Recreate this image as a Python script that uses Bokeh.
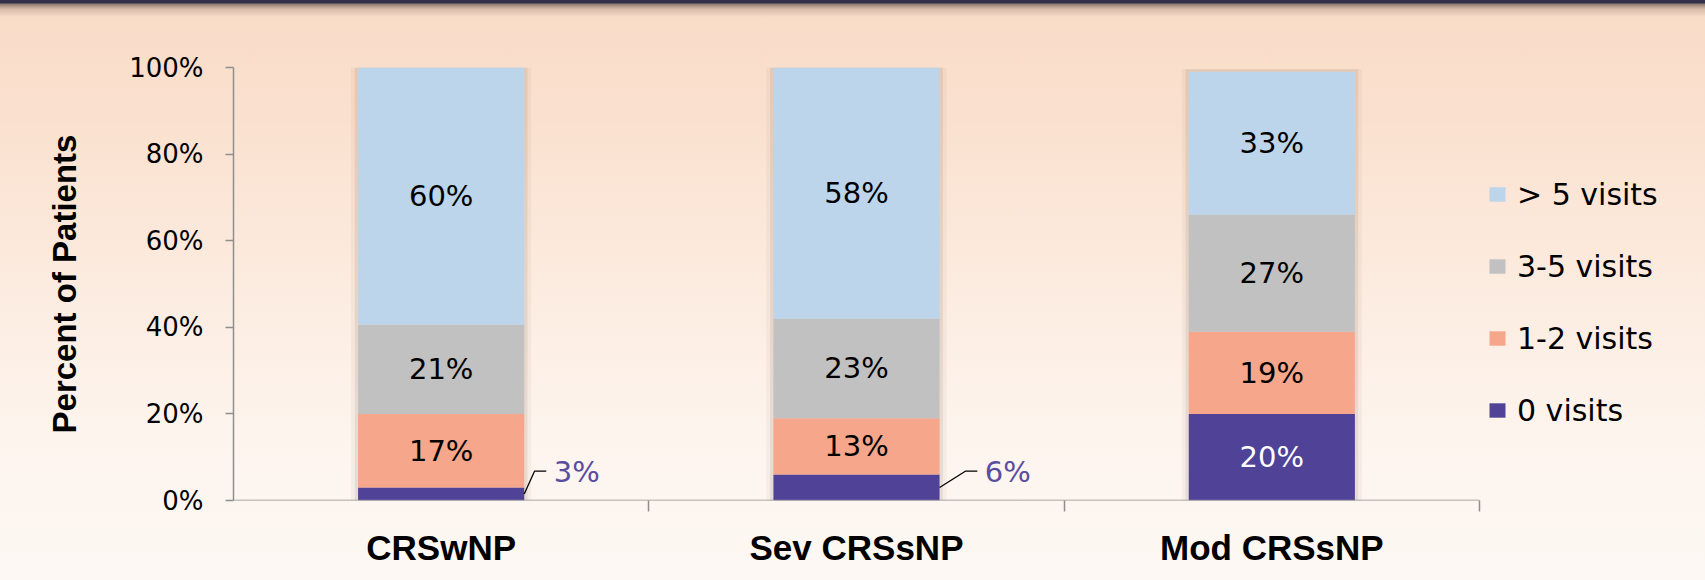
from bokeh.plotting import figure
from bokeh.models import ColumnDataSource, FixedTicker, Legend, LegendItem, Range1d
from bokeh.core.properties import value
from bokeh.embed import file_html
from bokeh.resources import INLINE
import numpy as np

# ---------------- data ----------------
categories = ["CRSwNP", "Sev CRSsNP", "Mod CRSsNP"]
series = ["0 visits", "1-2 visits", "3-5 visits", "> 5 visits"]
visits_0 = [3.0, 6.0, 20.0]
visits_1_2 = [17.0, 13.0, 19.0]
visits_3_5 = [20.6, 23.0, 27.0]
visits_gt5 = [59.4, 58.0, 33.0]
labels_0 = ["3%", "6%", "20%"]
labels_1_2 = ["17%", "13%", "19%"]
labels_3_5 = ["21%", "23%", "27%"]
labels_gt5 = ["60%", "58%", "33%"]
y_ticks = [0, 20, 40, 60, 80, 100]
y_tick_labels = ["0%", "20%", "40%", "60%", "80%", "100%"]

# ---------------- styles ----------------
colors = ["#4f4297", "#f6a68a", "#c1c1c1", "#bcd5ea"]
label_colors = ["#ffffff", "#000000", "#000000", "#000000"]
callout_color = "#5a4da0"
axis_color = "#8e8e8e"
FONT = "DejaVu Sans"
BOLD_FONT = "Liberation Sans"
BAR_W = 0.4

values = [visits_0, visits_1_2, visits_3_5, visits_gt5]
labels = [labels_0, labels_1_2, labels_3_5, labels_gt5]
n = len(categories)
xs = [i + 0.5 for i in range(n)]

W, H = 1705, 580
LEFT, AXIS_END = 233, 1479          # pixel extent of the category axis
cat_px = (AXIS_END - LEFT) / n
x_end = n + (W - AXIS_END) / cat_px  # frame continues to the right edge for the legend

p = figure(width=W, height=H, output_backend="svg", toolbar_location=None,
           x_range=Range1d(0, x_end), y_range=Range1d(0, 100),
           min_border_left=LEFT, min_border_right=0, min_border_top=67,
           min_border_bottom=80)
p.background_fill_alpha = 0
p.border_fill_alpha = 0
p.outline_line_color = None
p.xgrid.visible = False
p.ygrid.visible = False
p.styles = {"background": "linear-gradient(to bottom, #33314a 0px, #33314a 3px, #8f7b70 4px, "
                          "#d8bca9 9px, #f9dcc8 17px, #fae1cf 120px, #fcebdf 280px, "
                          "#fdf4ed 430px, #fdf8f4 100%)"}

# bar shadows
totals = np.sum(np.array(values), axis=0)
shadow = ColumnDataSource(dict(x=xs, top=totals + 0.6))
p.vbar(x="x", top="top", bottom=0, width=BAR_W + 0.034, source=shadow,
       fill_color="#6b4a3a", fill_alpha=0.05, line_color=None)
p.vbar(x="x", top="top", bottom=0, width=BAR_W + 0.016, source=shadow,
       fill_color="#6b4a3a", fill_alpha=0.10, line_color=None)

data = dict(x=xs)
for s, v in zip(series, values):
    data[s] = v
src = ColumnDataSource(data)
rends = p.vbar_stack(series, x="x", width=BAR_W, color=colors, source=src,
                     line_color=None)

# labels
cum = np.cumsum(np.array(values), axis=0)
in_x, in_y, in_t, in_c = [], [], [], []
co_x, co_y, co_t, lxs, lys = [], [], [], [], []
callout_elbow = [0.025, 0.063]
k = 0
for si in range(len(series)):
    for ci in range(n):
        v = values[si][ci]
        top = cum[si][ci]
        mid = top - v / 2
        if v >= 8:
            in_x.append(xs[ci]); in_y.append(mid); in_t.append(labels[si][ci])
            in_c.append(label_colors[si])
        else:
            right = xs[ci] + BAR_W / 2
            ly = top + 6.8 - v
            ex = right + callout_elbow[k]
            lxs.append([right, ex, ex + 0.028]); lys.append([mid, ly, ly])
            co_x.append(ex + 0.046); co_y.append(ly - 0.3); co_t.append(labels[si][ci])
            k += 1

p.text(x=in_x, y=in_y, text=in_t, text_color=in_c, text_align="center",
       text_baseline="middle", text_font=value(FONT), text_font_size="29px")
p.multi_line(xs=lxs, ys=lys, line_color="#000000", line_width=1.3)
p.text(x=co_x, y=co_y, text=co_t, text_color=callout_color, text_align="left",
       text_baseline="middle", text_font=value(FONT), text_font_size="29px")

# x axis line only across the categories
p.segment(x0=[0], y0=[0], x1=[n], y1=[0], line_color=axis_color, line_width=1.5)

# axes
xa = p.xaxis[0]
xa.ticker = FixedTicker(ticks=xs, minor_ticks=[i + 1 for i in range(n)])
xa.major_label_overrides = {x: c for x, c in zip(xs, categories)}
xa.major_tick_line_color = None
xa.major_tick_out = 0
xa.major_tick_in = 0
xa.minor_tick_line_color = axis_color
xa.minor_tick_out = 11
xa.minor_tick_in = 0
xa.minor_tick_line_width = 1.5
xa.axis_line_color = None
xa.major_label_standoff = 16
xa.major_label_text_font = BOLD_FONT
xa.major_label_text_font_style = "bold"
xa.major_label_text_font_size = "35px"
xa.major_label_text_color = "#000000"

ya = p.yaxis[0]
ya.ticker = FixedTicker(ticks=y_ticks, minor_ticks=[])
ya.major_label_overrides = {t: l for t, l in zip(y_ticks, y_tick_labels)}
ya.major_tick_out = 8
ya.major_tick_in = 0
ya.major_tick_line_color = axis_color
ya.major_tick_line_width = 1.5
ya.axis_line_color = axis_color
ya.axis_line_width = 1.5
ya.major_label_standoff = 22
ya.major_label_text_font = FONT
ya.major_label_text_font_size = "26px"
ya.major_label_text_color = "#000000"
ya.axis_label = "Percent of Patients"
ya.axis_label_text_font = BOLD_FONT
ya.axis_label_text_font_style = "bold"
ya.axis_label_text_font_size = "33px"
ya.axis_label_text_color = "#000000"
ya.axis_label_standoff = 43

# legend
items = [LegendItem(label=s, renderers=[r]) for s, r in zip(series, rends)][::-1]
leg = Legend(items=items, location=(1254, 70), glyph_width=20, glyph_height=18,
             label_standoff=10, label_height=40, spacing=32,
             padding=0, margin=0, border_line_color=None, background_fill_alpha=0,
             label_text_font=FONT, label_text_font_size="30px",
             label_text_color="#000000")
p.add_layout(leg)

open("out.html", "w").write(file_html(p, INLINE))
